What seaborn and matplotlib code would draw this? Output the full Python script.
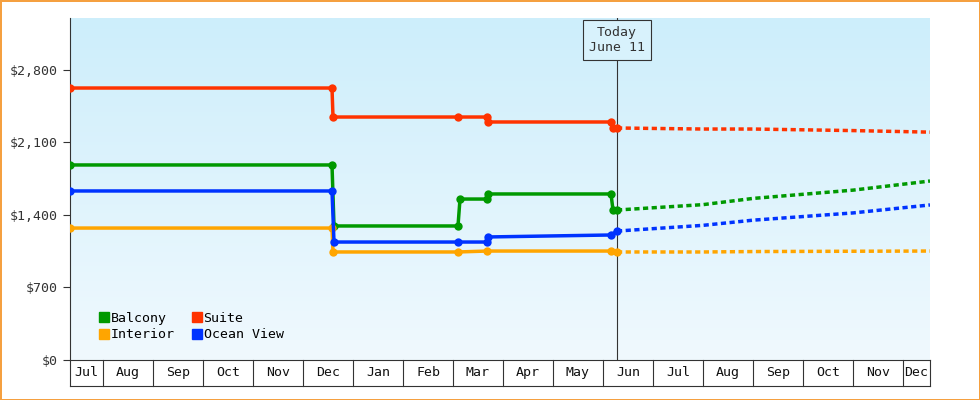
import numpy as np
import pandas as pd
import seaborn as sns
import matplotlib.pyplot as plt
from matplotlib.lines import Line2D
from matplotlib.colors import LinearSegmentedColormap

# x = months since Aug 1 (Jul = -1), y = price
months = ['Jul', 'Aug', 'Sep', 'Oct', 'Nov', 'Dec', 'Jan', 'Feb', 'Mar', 'Apr', 'May', 'Jun',
          'Jul', 'Aug', 'Sep', 'Oct', 'Nov', 'Dec']
today_x = 10.28

suite_x = [-0.66, 4.58, 4.6, 7.1, 7.68, 7.7, 10.16, 10.2, 10.28]
suite_y = [2626, 2626, 2346, 2346, 2346, 2298, 2298, 2240, 2240]
balcony_x = [-0.66, 4.58, 4.62, 7.1, 7.14, 7.68, 7.7, 10.16, 10.2, 10.28]
balcony_y = [1883, 1883, 1294, 1294, 1554, 1554, 1603, 1603, 1448, 1448]
ocean_x = [-0.66, 4.58, 4.62, 7.1, 7.68, 7.7, 10.16, 10.28]
ocean_y = [1632, 1632, 1139, 1139, 1139, 1188, 1207, 1245]
interior_x = [-0.66, 4.58, 4.6, 7.1, 7.68, 10.16, 10.28]
interior_y = [1274, 1274, 1043, 1043, 1052, 1052, 1043]

fc_x = [10.28, 12.0, 13.0, 15.0, 16.54]
suite_fc = [2240, 2230, 2230, 2215, 2200]
balcony_fc = [1448, 1500, 1560, 1640, 1728]
ocean_fc = [1245, 1300, 1350, 1420, 1497]
interior_fc = [1043, 1043, 1047, 1050, 1052]

series = [
    ('Balcony', '#009900', balcony_x, balcony_y, balcony_fc),
    ('Interior', '#ffa500', interior_x, interior_y, interior_fc),
    ('Suite', '#ff3300', suite_x, suite_y, suite_fc),
    ('Ocean View', '#0033ff', ocean_x, ocean_y, ocean_fc),
]

plt.rcParams['font.family'] = ['DejaVu Sans Mono']
fig = plt.figure(figsize=(9.8, 4.0), dpi=100)
fig.patch.set_edgecolor('#f5a040')
fig.patch.set_linewidth(2)
ax = fig.add_axes([70 / 980, 40 / 400, 860 / 980, 342 / 400])

xmin, xmax, ymin, ymax = -0.66, 16.54, 0, 3302
grad = np.linspace(0, 1, 256).reshape(-1, 1)
cmap = LinearSegmentedColormap.from_list('bg', ['#f0f9fe', '#cdeefb'])
ax.imshow(grad, cmap=cmap, aspect='auto', extent=[xmin, xmax, ymin, ymax], origin='lower', zorder=0)

for name, col, xs, ys, fc in series:
    d = pd.DataFrame({'x': xs, 'y': ys})
    sns.lineplot(data=d, x='x', y='y', ax=ax, color=col, lw=2.5, sort=False, estimator=None,
                 marker='o', markersize=6, markeredgewidth=0, zorder=3)
    f = pd.DataFrame({'x': fc_x, 'y': fc})
    sns.lineplot(data=f, x='x', y='y', ax=ax, color=col, lw=2.5, sort=False, estimator=None,
                 linestyle=(0, (1.5, 1)), zorder=3)

ax.axvline(today_x, color='#333333', lw=0.8, zorder=2)
ax.text(today_x, 3090, 'Today\nJune 11', ha='center', va='center', fontsize=9.5, color='#333333',
        bbox=dict(boxstyle='square,pad=0.45', fc='#d8f2fc', ec='#333333', lw=0.8), zorder=5)

ax.set_xlim(xmin, xmax)
ax.set_ylim(ymin, ymax)
ax.set_xlabel('')
ax.set_ylabel('')
ax.set_yticks([0, 700, 1400, 2100, 2800])
ax.set_yticklabels(['$0', '$700', '$1,400', '$2,100', '$2,800'], fontsize=9.5, color='#333333')
ax.tick_params(axis='y', length=5, color='#333333')
ax.set_xticks([])
for s in ['top', 'right']:
    ax.spines[s].set_visible(False)
ax.spines['left'].set_color('#333333')
ax.spines['bottom'].set_color('#333333')

# month cells below the axis
bounds = [xmin] + list(range(0, 17)) + [xmax]
for i, m in enumerate(months):
    a, b = bounds[i], bounds[i + 1]
    ax.text((a + b) / 2, -120, m, ha='center', va='center', fontsize=9.5, color='#111111',
            clip_on=False)
    ax.plot([b, b], [0, -250], color='#333333', lw=0.8, clip_on=False)
ax.plot([xmin, xmin], [0, -250], color='#333333', lw=0.8, clip_on=False)
ax.plot([xmin, xmax], [-250, -250], color='#333333', lw=0.8, clip_on=False)

handles = [Line2D([], [], marker='s', color=c, ls='', markersize=7) for _, c, *_ in series]
ax.legend(handles, [s[0] for s in series], ncol=2, loc='lower left', bbox_to_anchor=(0.018, 0.02),
          frameon=False, fontsize=9.5, handletextpad=0.0, columnspacing=1.2, labelspacing=0.25,
          handlelength=1)

fig.savefig('out.png', dpi=100)
